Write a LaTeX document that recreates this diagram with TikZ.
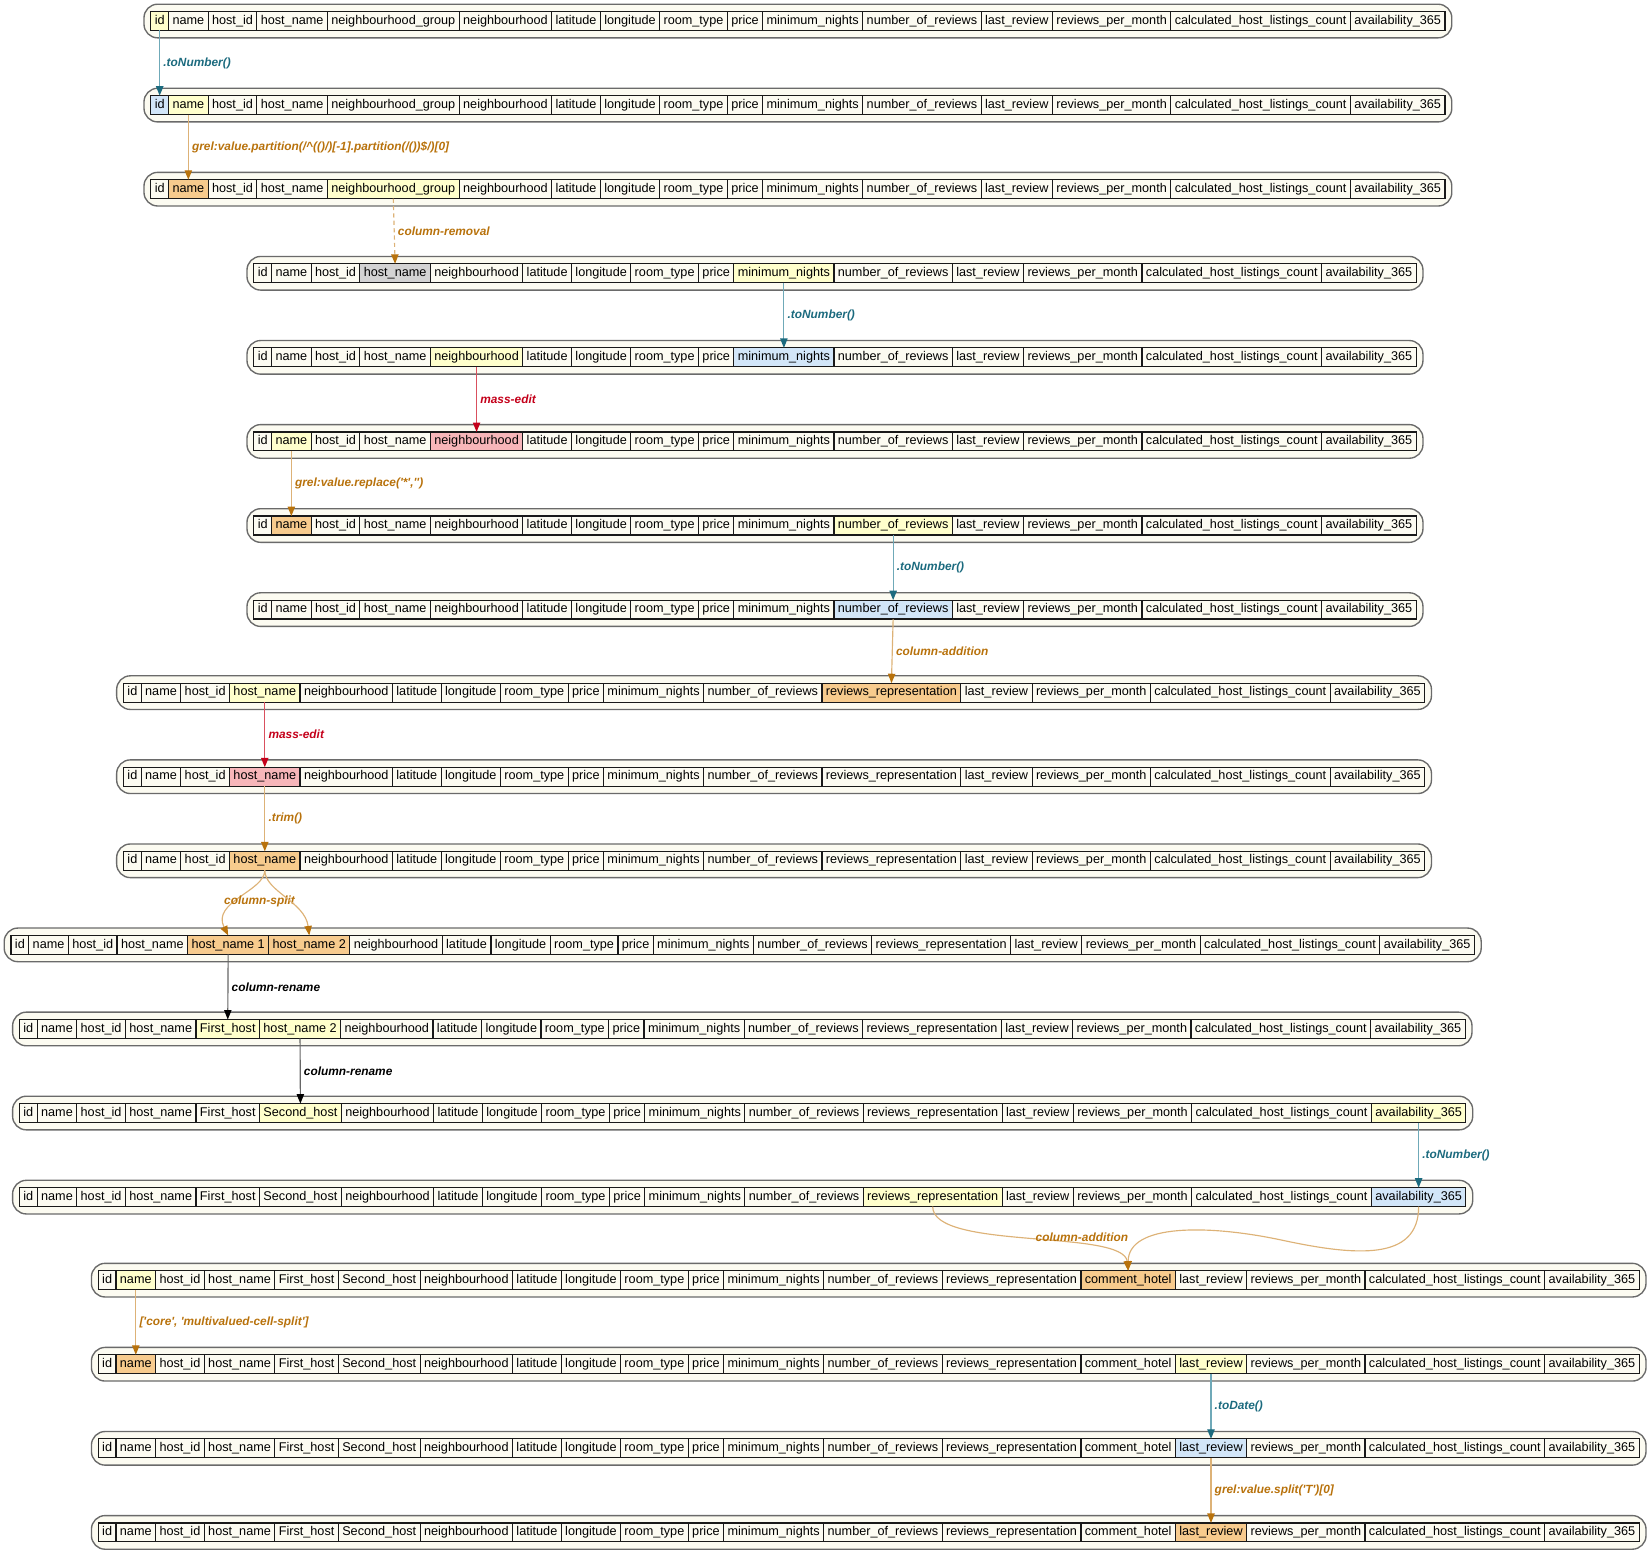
\documentclass[tikz,border=0pt]{standalone}
\usepackage{fontspec}
\setmainfont{Liberation Sans}
\usetikzlibrary{arrows.meta,positioning,fit,backgrounds}

\definecolor{cellbg}{HTML}{FCFBF1}
\definecolor{framegray}{HTML}{6A6A6A}
\definecolor{hlyellow}{HTML}{FFFFCC}
\definecolor{hlblue}{HTML}{D2E6F8}
\definecolor{hlorange}{HTML}{F7CB8D}
\definecolor{hlpink}{HTML}{F7B6B9}
\definecolor{hlgray}{HTML}{D3D3D3}
\definecolor{tealline}{HTML}{6FA9B8}
\definecolor{tealdark}{HTML}{1B6A7E}
\definecolor{orangeline}{HTML}{DDB277}
\definecolor{orangedark}{HTML}{B8720C}
\definecolor{redline}{HTML}{D9505E}
\definecolor{reddark}{HTML}{C4001A}

\tikzset{
  cell/.style={draw=black!90, fill=cellbg, line width=1.1pt, inner xsep=3.75pt,
    inner ysep=3pt, outer sep=0pt, text height=9pt, text depth=3pt,
    font=\fontsize{12.05}{14}\selectfont},
  rowframe/.style={draw=framegray, fill=cellbg, line width=1.3pt,
    rounded corners=13pt, inner xsep=6.5pt, inner ysep=7pt},
  hy/.style={fill=hlyellow}, hb/.style={fill=hlblue}, ho/.style={fill=hlorange},
  hp/.style={fill=hlpink}, hg/.style={fill=hlgray},
  lbl/.style={font=\fontsize{11.3}{13}\selectfont\bfseries\itshape, inner sep=0pt},
  conn/.style={line width=1.1pt},
  tealconn/.style={conn, draw=tealline, -{Triangle[length=9pt,width=7pt,color=tealdark]},
    every node/.append style={text=tealdark}},
  orangeconn/.style={conn, draw=orangeline, -{Triangle[length=9pt,width=7pt,color=orangedark]},
    every node/.append style={text=orangedark}},
  redconn/.style={conn, draw=redline, -{Triangle[length=9pt,width=7pt,color=reddark]},
    every node/.append style={text=reddark}},
  blackconn/.style={conn, draw=black!60, -{Triangle[length=9pt,width=7pt,color=black]},
    every node/.append style={text=black}},
}

% one table row: name, left/centre point, highlights, cells
\newcommand{\tablerow}[4]{%
  \begin{scope}[#3]
    \node[inner sep=0pt, outer sep=0pt] (#1-0) at (#2) {};
    \foreach \txt [count=\i, remember=\i as \j (initially 0)] in #4 {
      \node[cell, right=0pt of #1-\j, c\i/.try] (#1-\i) {\txt};
      \xdef\lastcell{#1-\i}
    }
  \end{scope}
  \begin{scope}[on background layer]
    \node[rowframe, fit=(#1-1)(\lastcell)] {};
  \end{scope}
}

\newcommand{\colsA}{id,name,host\_id,host\_name,neighbourhood\_group,neighbourhood,latitude,longitude,room\_type,price,minimum\_nights,number\_of\_reviews,last\_review,reviews\_per\_month,calculated\_host\_listings\_count,availability\_365}
\newcommand{\colsB}{id,name,host\_id,host\_name,neighbourhood,latitude,longitude,room\_type,price,minimum\_nights,number\_of\_reviews,last\_review,reviews\_per\_month,calculated\_host\_listings\_count,availability\_365}
\newcommand{\colsC}{id,name,host\_id,host\_name,neighbourhood,latitude,longitude,room\_type,price,minimum\_nights,number\_of\_reviews,reviews\_representation,last\_review,reviews\_per\_month,calculated\_host\_listings\_count,availability\_365}
\newcommand{\colsD}{id,name,host\_id,host\_name,host\_name 1,host\_name 2,neighbourhood,latitude,longitude,room\_type,price,minimum\_nights,number\_of\_reviews,reviews\_representation,last\_review,reviews\_per\_month,calculated\_host\_listings\_count,availability\_365}
\newcommand{\colsE}{id,name,host\_id,host\_name,First\_host,host\_name 2,neighbourhood,latitude,longitude,room\_type,price,minimum\_nights,number\_of\_reviews,reviews\_representation,last\_review,reviews\_per\_month,calculated\_host\_listings\_count,availability\_365}
\newcommand{\colsF}{id,name,host\_id,host\_name,First\_host,Second\_host,neighbourhood,latitude,longitude,room\_type,price,minimum\_nights,number\_of\_reviews,reviews\_representation,last\_review,reviews\_per\_month,calculated\_host\_listings\_count,availability\_365}
\newcommand{\colsG}{id,name,host\_id,host\_name,First\_host,Second\_host,neighbourhood,latitude,longitude,room\_type,price,minimum\_nights,number\_of\_reviews,reviews\_representation,comment\_hotel,last\_review,reviews\_per\_month,calculated\_host\_listings\_count,availability\_365}

\newcommand{\q}{\textquotesingle}

\begin{document}
\begin{tikzpicture}[x=1pt, y=-1pt]
  \useasboundingbox (0,0) rectangle (1568,1480);
  % Rows
  \tablerow{r1}{143,20}{c1/.style=hy}{\colsA}
  \tablerow{r2}{143,100}{c1/.style=hb, c2/.style=hy}{\colsA}
  \tablerow{r3}{143,180}{c2/.style=ho, c5/.style=hy}{\colsA}
  \tablerow{r4}{241,260}{c4/.style=hg, c10/.style=hy}{\colsB}
  \tablerow{r5}{241,340}{c5/.style=hy, c10/.style=hb}{\colsB}
  \tablerow{r6}{241,420}{c2/.style=hy, c5/.style=hp}{\colsB}
  \tablerow{r7}{241,500}{c2/.style=ho, c11/.style=hy}{\colsB}
  \tablerow{r8}{241,580}{c11/.style=hb}{\colsB}
  \tablerow{r9}{117,659}{c4/.style=hy, c12/.style=ho}{\colsC}
  \tablerow{r10}{117,739}{c4/.style=hp}{\colsC}
  \tablerow{r11}{117,819}{c4/.style=ho}{\colsC}
  \tablerow{r12}{10,899}{c5/.style=ho, c6/.style=ho}{\colsD}
  \tablerow{r13}{18,979}{c5/.style=hy, c6/.style=hy}{\colsE}
  \tablerow{r14}{18,1059}{c6/.style=hy, c18/.style=hy}{\colsF}
  \tablerow{r15}{18,1139}{c14/.style=hy, c18/.style=hb}{\colsF}
  \tablerow{r16}{93,1218}{c2/.style=hy, c15/.style=ho}{\colsG}
  \tablerow{r17}{93,1298}{c2/.style=ho, c16/.style=hy}{\colsG}
  \tablerow{r18}{93,1378}{c16/.style=hb}{\colsG}
  \tablerow{r19}{93,1458}{c16/.style=ho}{\colsG}
  % Operations
  \draw[tealconn] (r1-1.south) -- (r2-1.north) node[lbl, midway, right=3pt] {.toNumber()};
  \draw[orangeconn] (r2-2.south) -- (r3-2.north)
    node[lbl, midway, right=3pt] {grel:value.partition(/\textasciicircum(()/)[-1].partition(/())\$/)[0]};
  \draw[orangeconn, dash pattern=on 4pt off 3pt] (r3-5.south) -- (r4-4.north)
    node[lbl, midway, right=3pt] {column-removal};
  \draw[tealconn] (r4-10.south) -- (r5-10.north) node[lbl, midway, right=3pt] {.toNumber()};
  \draw[redconn] (r5-5.south) -- (r6-5.north) node[lbl, midway, right=3pt] {mass-edit};
  \draw[orangeconn] (r6-2.south) -- (r7-2.north)
    node[lbl, midway, right=3pt] {grel:value.replace(\q*\q,\q\q)};
  \draw[tealconn] (r7-11.south) -- (r8-11.north) node[lbl, midway, right=3pt] {.toNumber()};
  \draw[orangeconn] (r8-11.south) -- (r9-12.north) node[lbl, midway, right=3pt] {column-addition};
  \draw[redconn] (r9-4.south) -- (r10-4.north) node[lbl, midway, right=3pt] {mass-edit};
  \draw[orangeconn] (r10-4.south) -- (r11-4.north) node[lbl, midway, right=3pt] {.trim()};
  % column split
  \draw[orangeconn] (r11-4.south) .. controls +(0,20) and +(-16,-32) .. (r12-5.north)
    node[lbl, pos=0.65, anchor=west, xshift=-7pt, yshift=5pt] {column-split};
  \draw[orangeconn] (r11-4.south) .. controls +(0,20) and +(-4,-32) .. (r12-6.north);
  \draw[blackconn] (r12-5.south) -- (r13-5.north) node[lbl, midway, right=3pt] {column-rename};
  \draw[blackconn] (r13-6.south) -- (r14-6.north) node[lbl, midway, right=3pt] {column-rename};
  \draw[tealconn] (r14-18.south) -- (r15-18.north) node[lbl, midway, right=3pt] {.toNumber()};
  % column addition from two columns
  \draw[orangeconn] (r15-14.south) .. controls +(0,42) and +(-4,-40) .. (r16-15.north)
    node[lbl, pos=0.5, anchor=west, xshift=6pt, yshift=2pt] {column-addition};
  \draw[orangeconn] (r15-18.south) .. controls +(0,52) and +(70,15) .. (1220,1180)
    .. controls +(-70,-15) and +(0,-45) .. (r16-15.north);
  \draw[orangeconn] (r16-2.south) -- (r17-2.north)
    node[lbl, midway, right=3pt] {[\q core\q, \q multivalued-cell-split\q]};
  \draw[tealconn] (r17-16.south) -- (r18-16.north) node[lbl, midway, right=3pt] {.toDate()};
  \draw[orangeconn] (r18-16.south) -- (r19-16.north)
    node[lbl, midway, right=3pt] {grel:value.split(\q T\q)[0]};
\end{tikzpicture}
\end{document}
